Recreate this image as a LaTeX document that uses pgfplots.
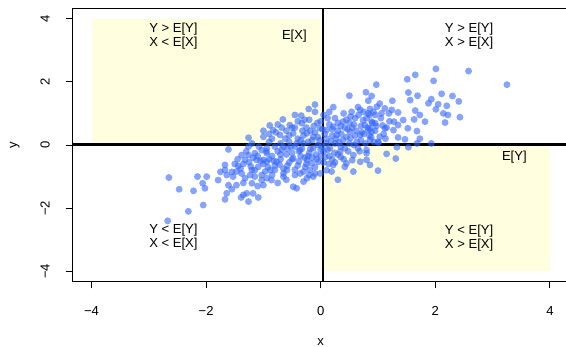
\documentclass[border=0pt]{standalone}
\usepackage{fontspec}
\setmainfont{Liberation Sans}
\usepackage{pgfplots}
\pgfplotsset{compat=1.18}
\definecolor{ptblue}{RGB}{51,102,255}
\definecolor{lyellow}{RGB}{255,255,224}
\newcommand{\rf}{\fontsize{9.8}{10.5}\selectfont}
\begin{document}
\begin{tikzpicture}
\begin{axis}[
  x=42.975pt, y=23.7pt,
  xmin=-4.323, xmax=4.32, ymin=-4.304, ymax=4.304,
  axis line style={line width=0.75pt},
  xtick={-4,-2,0,2,4}, ytick={-4,-2,0,2,4},
  xticklabels={−4,−2,0,2,4}, yticklabels={−4,−2,0,2,4},
  xtick pos=left, ytick pos=left,
  tick align=outside, major tick length=5.5pt,
  tick style={black, line width=0.75pt},
  tick label style={font=\rf},
  xticklabel style={anchor=base},
  xticklabel shift=20.4pt,
  yticklabel style={rotate=90, anchor=base},
  yticklabel shift=12pt,
  xlabel={x}, ylabel={y},
  label style={font=\rf},
  xlabel style={at={(axis description cs:0.5,0)}, anchor=base, yshift=-48pt},
  ylabel style={at={(axis description cs:-0.1131,0.5)}, anchor=base, rotate=0},
  clip=true,
]
\addplot[fill=lyellow, draw=none] coordinates {(-4,0) (0,0) (0,4) (-4,4)} -- cycle;
\addplot[fill=lyellow, draw=none] coordinates {(0,-4) (4,-4) (4,0) (0,0)} -- cycle;
\addplot[only marks, mark=*, color=ptblue, mark size=2.6pt, mark options={line width=0pt, draw opacity=0, fill=ptblue, fill opacity=0.6}] coordinates {
(2.01,2.41) (2.58,2.34) (3.25,1.91) (1.65,2.22) (1.51,2.08) (1.97,2.03) (0.97,1.91) (1.53,1.66) (1.69,1.56) (2.11,1.62)
(2.30,1.55) (0.89,1.55) (0.79,1.67) (1.93,1.45) (2.41,1.38) (1.56,1.42) (1.88,1.32) (2.05,1.29) (2.20,1.24) (2.01,1.13)
(1.25,1.40) (1.03,1.31) (0.83,1.40) (1.12,1.16) (1.24,1.11) (1.35,1.03) (1.65,1.09) (2.14,1.00) (2.22,0.95) (2.43,0.88)
(1.73,0.95) (1.82,0.74) (2.17,0.71) (1.63,0.81) (1.44,0.79) (1.28,0.74) (1.52,0.53) (1.68,0.44) (1.12,0.53) (1.35,0.24)
(1.73,0.20) (1.93,0.05) (1.53,-0.07) (1.33,-0.07) (1.15,-0.28) (1.31,-0.43) (0.89,0.42) (0.89,0.74) (0.98,1.21) (1.19,1.00)
(1.06,1.00) (0.83,1.00) (0.95,0.69) (1.03,0.26) (0.77,0.63) (0.86,0.16) (1.01,0.07) (0.80,-0.16)
(0.50,1.56) (0.22,1.20) (-0.10,1.28) (-0.21,1.14) (-0.34,0.93) (-0.66,0.81) (-0.89,0.62) (-1.26,0.23) (-1.61,-0.14) (1.00,-0.81)
(1.35,0.63) (1.27,0.47) (1.47,0.18) (1.68,0.05) (0.83,0.47)
(0.54,1.05) (0.69,1.11) (0.86,1.14) (-0.54,0.63) (-0.33,0.69) (0.39,0.74) (0.22,0.58) (-0.01,0.53) (0.10,0.47) (-0.83,0.47)
(-1.00,0.26) (-0.71,0.32) (-0.48,0.37) (-0.24,0.37) (-0.13,0.26) (0.28,0.32) (0.51,0.42) (0.69,0.32) (0.86,0.53) (0.39,0.16)
(0.63,0.10) (-0.94,-0.10) (-0.65,-0.05) (-0.36,-0.16) (-0.13,-0.10) (0.16,-0.10) (0.34,-0.21) (0.57,-0.32) (0.80,-0.26)
(-1.00,-0.47) (-0.77,-0.53) (-0.48,-0.42) (-0.24,-0.47) (-0.04,-0.53) (0.22,-0.63) (0.45,-0.58) (0.69,-0.53) (-0.88,-0.79)
(-0.59,-0.79) (-0.30,-0.84) (-0.01,-0.90) (0.57,-0.84) (0.86,-0.63) (-0.94,-1.05) (-0.65,-1.00) (-0.13,-1.00) (0.30,-1.10)
(-1.00,-1.27) (-0.80,-0.79) (-0.65,-0.90) (-0.48,-1.32) (-0.42,-1.37) (-0.30,-1.16) (-0.24,-1.05) (-0.19,-0.79) (-0.36,-0.90)
(0.19,-0.84) (0.42,-0.69) (0.80,-0.47) (-0.86,-1.11) (-0.10,-0.90) (-1.23,-0.95)
(-2.65,-1.03) (-2.47,-1.40) (-2.22,-1.45) (-2.15,-1.00) (-2.06,-1.21) (-1.99,-1.00) (-2.02,-1.37) (-2.05,-1.90) (-2.31,-2.10)
(-2.67,-2.40) (-1.79,-1.11) (-1.67,-0.63) (-1.67,-0.79) (-1.64,-0.95) (-1.50,-0.60) (-1.44,-0.66) (-1.53,-1.00) (-1.38,-0.90)
(-1.32,-1.05) (-1.61,-1.27) (-1.47,-1.27) (-1.64,-1.53) (-1.67,-1.72) (-1.35,-1.58) (-1.29,-1.53) (-1.39,-1.66) (-1.26,-1.79)
(-1.18,-1.53) (-1.09,-1.66) (-1.15,-1.00) (-1.03,-0.95) (-1.20,-0.79) (-1.09,-0.69) (-0.97,-0.84) (-1.26,-0.32) (-1.15,-0.26)
(-1.03,-0.16) (-0.94,-0.26) (-1.26,-0.05) (-1.12,-0.47) (-0.94,-0.53) (-1.03,-1.11) (-1.20,-1.21) (-1.38,-0.32) (-1.47,-0.84)
(-1.32,-0.47)
(-0.85,-0.35) (-0.75,-0.20) (-0.60,-0.30) (-0.55,0.10) (-0.45,-0.05) (-0.40,0.20) (-0.30,0.05) (-0.20,-0.25) (-0.15,0.15)
(-0.05,0.00) (0.05,-0.20) (0.10,0.20) (0.15,-0.35) (0.25,0.05) (0.30,0.45) (0.35,-0.05) (0.45,0.25) (0.50,0.05) (0.55,0.55)
(0.60,0.30) (0.65,-0.10) (0.70,0.60) (0.75,0.35) (0.80,0.85) (0.90,0.70) (0.95,0.45) (1.05,0.85) (1.10,0.35) (1.20,0.75)
(-1.10,-0.35) (-1.00,-0.60) (-0.90,-0.45) (-0.80,-0.65) (-0.70,-0.45) (-0.65,-0.75) (-0.55,-0.55) (-0.50,-0.25) (-0.40,-0.65)
(-0.35,-0.35) (-0.25,-0.60) (-0.15,-0.40) (-0.10,-0.70) (0.00,-0.35) (0.05,-0.55) (0.20,-0.45) (0.30,-0.30) (0.40,-0.45)
(-0.70,0.05) (-0.60,0.45) (-0.50,0.55) (-0.40,0.75) (-0.25,0.55) (-0.20,0.80) (-0.10,0.40) (0.00,0.75) (0.05,0.95) (0.15,0.65)
(0.25,0.85) (0.35,0.60) (0.40,1.00) (0.45,0.80) (0.60,0.85) (0.65,1.20) (0.75,1.05) (0.85,0.30) (0.95,0.95)
(-1.40,-0.75) (-1.25,-0.55) (-1.15,-0.80) (-1.35,-1.20) (-1.10,-1.30) (-0.85,-0.95) (-0.75,-1.20) (-0.60,-1.10) (-0.45,-0.95)
(-0.20,-0.95) (0.10,-0.80) (-0.90,0.10) (-1.20,0.05) (-1.45,-0.45) (-1.55,-0.85) (-1.75,-0.85) (-1.55,-1.40)
(0.20,0.30) (0.10,0.05) (-0.05,0.25) (-0.30,0.30) (0.50,0.70) (0.70,0.15) (1.00,0.10) (1.15,0.55) (0.15,1.05) (-0.10,1.05)
(-0.45,0.95) (-0.75,0.65) (-1.00,0.45)
(-0.95,-0.20) (-0.85,0.20) (-0.80,-0.05) (-0.70,-0.30) (-0.62,0.20) (-0.58,-0.12) (-0.50,-0.45) (-0.42,0.05) (-0.38,-0.20)
(-0.32,0.45) (-0.28,-0.40) (-0.22,0.10) (-0.18,-0.12) (-0.12,0.60) (-0.08,-0.30) (-0.02,0.15) (0.02,-0.05) (0.07,0.35)
(0.12,-0.15) (0.18,0.12) (0.24,-0.25) (0.27,0.20) (0.32,0.08) (0.36,0.35) (0.42,-0.10) (0.47,0.50) (0.52,0.22) (0.58,0.00)
(0.62,0.45) (0.68,-0.20) (0.72,0.40) (0.78,0.05) (0.82,0.55) (0.88,0.25) (0.93,0.10) (0.97,0.60) (1.08,0.62) (1.13,0.20)
(-0.92,-0.70) (-0.82,-0.50) (-0.72,-0.62) (-0.68,-0.15) (-0.58,-0.65) (-0.52,-0.05) (-0.45,-0.78) (-0.38,-0.52) (-0.33,-0.12)
(-0.27,-0.70) (-0.22,-0.35) (-0.16,-0.58) (-0.07,-0.45) (0.00,-0.15) (0.08,-0.38) (0.14,-0.60) (0.25,-0.55) (0.35,-0.38)
(0.48,-0.20) (0.55,-0.48)
(-0.90,0.35) (-0.78,0.40) (-0.68,0.55) (-0.55,0.30) (-0.45,0.55) (-0.35,0.15) (-0.28,0.80) (-0.18,0.45) (-0.06,0.70)
(0.03,0.50) (0.12,0.85) (0.20,0.50) (0.30,0.70) (0.42,0.55) (0.52,0.90) (0.58,0.65) (0.66,0.95) (0.74,0.78) (0.85,0.95)
(0.92,1.05) (-1.30,-0.20) (-1.18,-0.40) (-1.08,-0.05) (-1.05,-0.50) (-1.35,-0.60) (-1.22,-0.68)
};
\addplot[black, line width=2.2pt] coordinates {(0.04,-5) (0.04,5)};
\addplot[black, line width=2.2pt] coordinates {(-5,0.01) (5,0.01)};
\node[align=center, font=\rf] at (axis cs:-2.57,3.44) {Y > E[Y]\\X < E[X]};
\node[align=center, font=\rf] at (axis cs:2.59,3.44) {Y > E[Y]\\X > E[X]};
\node[align=center, font=\rf] at (axis cs:-2.57,-2.92) {Y < E[Y]\\X < E[X]};
\node[align=center, font=\rf] at (axis cs:2.59,-2.94) {Y < E[Y]\\X > E[X]};
\node[font=\rf] at (axis cs:-0.46,3.45) {E[X]};
\node[font=\rf] at (axis cs:3.38,-0.39) {E[Y]};
\coordinate (bbl) at (axis cs:-5.597,-6.361);
\coordinate (btr) at (axis cs:4.281,4.589);
\end{axis}
\pgfresetboundingbox
\useasboundingbox (bbl) rectangle (btr);
\end{tikzpicture}
\end{document}
